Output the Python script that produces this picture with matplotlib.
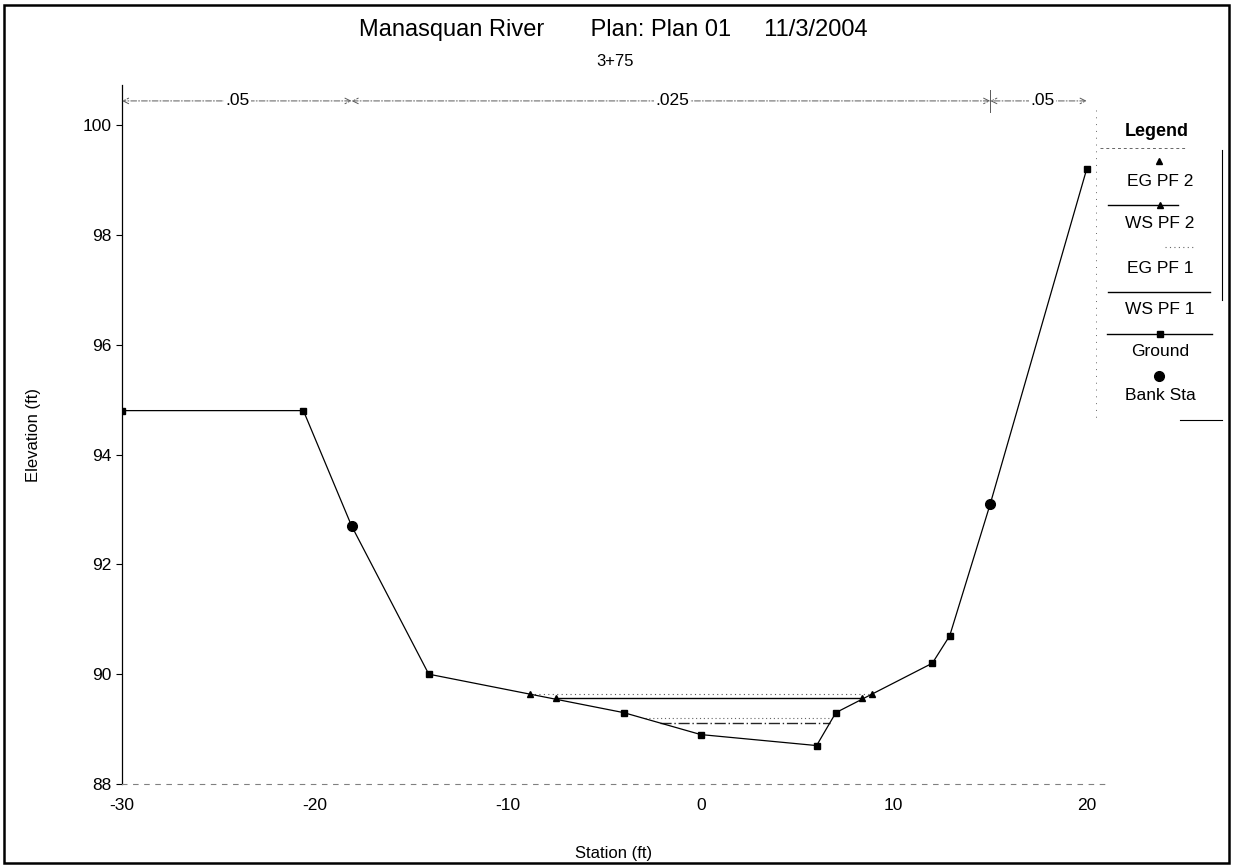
import matplotlib
matplotlib.use("Agg")
import matplotlib.pyplot as plt
from matplotlib.lines import Line2D
from matplotlib.patches import Rectangle

plt.rcParams['font.family'] = ['Liberation Sans', 'DejaVu Sans']
plt.rcParams['axes.unicode_minus'] = False

# data
ground_x = [-30, -20.6, -18.1, -14.1, -4, 0, 6, 7, 12, 12.9, 15, 20]
ground_y = [94.8, 94.8, 92.7, 90.0, 89.3, 88.9, 88.7, 89.3, 90.2, 90.7, 93.1, 99.2]
bank_x = [-18.1, 15]
bank_y = [92.7, 93.1]
ws2_x = [-7.5, 8.35]
ws2_y = [89.57, 89.57]
eg2_x = [-8.86, 8.86]
eg2_y = [89.64, 89.64]
ws1_x = [-2.1, 6.7]
ws1_y = [89.11, 89.11]
eg1_x = [-2.9, 6.8]
eg1_y = [89.2, 89.2]
n_edges = [-30, -18.1, 15, 20]
n_vals = ['.05', '.025', '.05']
n_label_x = [-24.0, -1.5, 17.7]
n_elev = 100.44
xticks = [-30, -20, -10, 0, 10, 20]
yticks = [88, 90, 92, 94, 96, 98, 100]

W, H = 1233, 866
fig = plt.figure(figsize=(W / 100, H / 100), dpi=100)
ax = fig.add_axes([122 / W, 1 - 784 / H, 984 / W, 699 / H])

def px(x, y):
    return x / W, 1 - y / H

# frame round the whole sheet
fig.patches.append(Rectangle((0.003, 0.004), 0.994, 0.99, transform=fig.transFigure,
                             fill=False, lw=1.8, ec='black'))

ax.plot(eg2_x, eg2_y, color='0.35', lw=0.8, ls=(0, (1, 3)), marker='^', ms=4,
        mfc='black', mec='black')
ax.plot(ws2_x, ws2_y, color='black', lw=1.0, marker='^', ms=4)
ax.plot(eg1_x, eg1_y, color='0.4', lw=0.8, ls=(0, (1, 2.5)))
ax.plot(ws1_x, ws1_y, color='0.15', lw=1.0, ls=(0, (8, 2, 1, 2)))
ax.plot(ground_x, ground_y, color='black', lw=0.9, marker='s', ms=5)
ax.plot(bank_x, bank_y, ls='none', marker='o', ms=7, color='black')

# manning's n bands
for i in range(len(n_vals)):
    ax.annotate('', xy=(n_edges[i], n_elev), xytext=(n_edges[i + 1], n_elev),
                arrowprops=dict(arrowstyle='<->', ls=(0, (6, 2, 1, 2)), lw=0.7,
                                color='0.35', shrinkA=0, shrinkB=0))
    ax.text(n_label_x[i], n_elev, n_vals[i], ha='center', va='center', fontsize=12.5,
            bbox=dict(fc='white', ec='none', pad=1))
ax.plot([n_edges[2], n_edges[2]], [n_elev - 0.2, n_elev + 0.2], color='0.35', lw=0.7)

ax.set_xlim(-30, 21)
ax.set_ylim(88, 100.73)
ax.set_xticks(xticks)
ax.set_yticks(yticks)
ax.tick_params(axis='x', length=0, labelsize=12.5, pad=10)
ax.tick_params(axis='y', length=4, labelsize=12.5, direction='out')
for s in ['top', 'right']:
    ax.spines[s].set_visible(False)
ax.spines['left'].set_linewidth(0.9)
ax.spines['bottom'].set_linestyle((0, (4, 6)))
ax.spines['bottom'].set_color('0.5')
ax.spines['bottom'].set_linewidth(0.8)
ax.set_xlabel('Station (ft)', fontsize=12, labelpad=24)
ax.set_ylabel('Elevation (ft)', fontsize=12, labelpad=30)

fig.text(*px(613, 30), 'Manasquan River       Plan: Plan 01     11/3/2004',
         ha='center', va='center', fontsize=17)
fig.text(*px(615, 62), '3+75', ha='center', va='center', fontsize=12)

# legend drawn by hand: symbol above each label
def seg(x0, x1, y, **kw):
    a, b = px(x0, y)
    c, _ = px(x1, y)
    fig.add_artist(Line2D([a, c], [b, b], transform=fig.transFigure, **kw))

fig.text(*px(1157, 131), 'Legend', ha='center', va='center', fontsize=13, weight='bold')
seg(1100, 1185, 148, color='0.4', lw=0.7, ls=(0, (3, 3)))
fig.add_artist(Line2D(*zip(px(1159, 161)), transform=fig.transFigure, marker='^', ms=4,
                      color='black'))
fig.text(*px(1160, 181), 'EG PF 2', ha='center', va='center', fontsize=12.5)
seg(1108, 1178, 205, color='black', lw=1.0)
fig.add_artist(Line2D(*zip(px(1160, 205)), transform=fig.transFigure, marker='^', ms=4,
                      color='black'))
fig.text(*px(1160, 224), 'WS PF 2', ha='center', va='center', fontsize=12.5)
seg(1165, 1195, 247, color='0.4', lw=0.8, ls=(0, (1, 3)))
fig.text(*px(1160, 268), 'EG PF 1', ha='center', va='center', fontsize=12.5)
seg(1108, 1210, 292, color='black', lw=1.0)
fig.text(*px(1160, 310), 'WS PF 1', ha='center', va='center', fontsize=12.5)
seg(1107, 1212, 334, color='black', lw=1.0)
fig.add_artist(Line2D(*zip(px(1160, 334)), transform=fig.transFigure, marker='s', ms=5,
                      color='black'))
fig.text(*px(1160, 352), 'Ground', ha='center', va='center', fontsize=12.5)
fig.add_artist(Line2D(*zip(px(1159, 376)), transform=fig.transFigure, marker='o', ms=7,
                      color='black'))
fig.text(*px(1160, 395), 'Bank Sta', ha='center', va='center', fontsize=12.5)
fig.add_artist(Line2D([1222 / W, 1222 / W], [1 - 150 / H, 1 - 300 / H],
                      transform=fig.transFigure, color='black', lw=0.8))
fig.add_artist(Line2D([1096 / W, 1096 / W], [1 - 110 / H, 1 - 420 / H],
                      transform=fig.transFigure, color='0.4', lw=0.7, ls=(0, (1, 6))))
seg(1180, 1222, 420, color='black', lw=0.8)

fig.savefig('out.png', dpi=100)
